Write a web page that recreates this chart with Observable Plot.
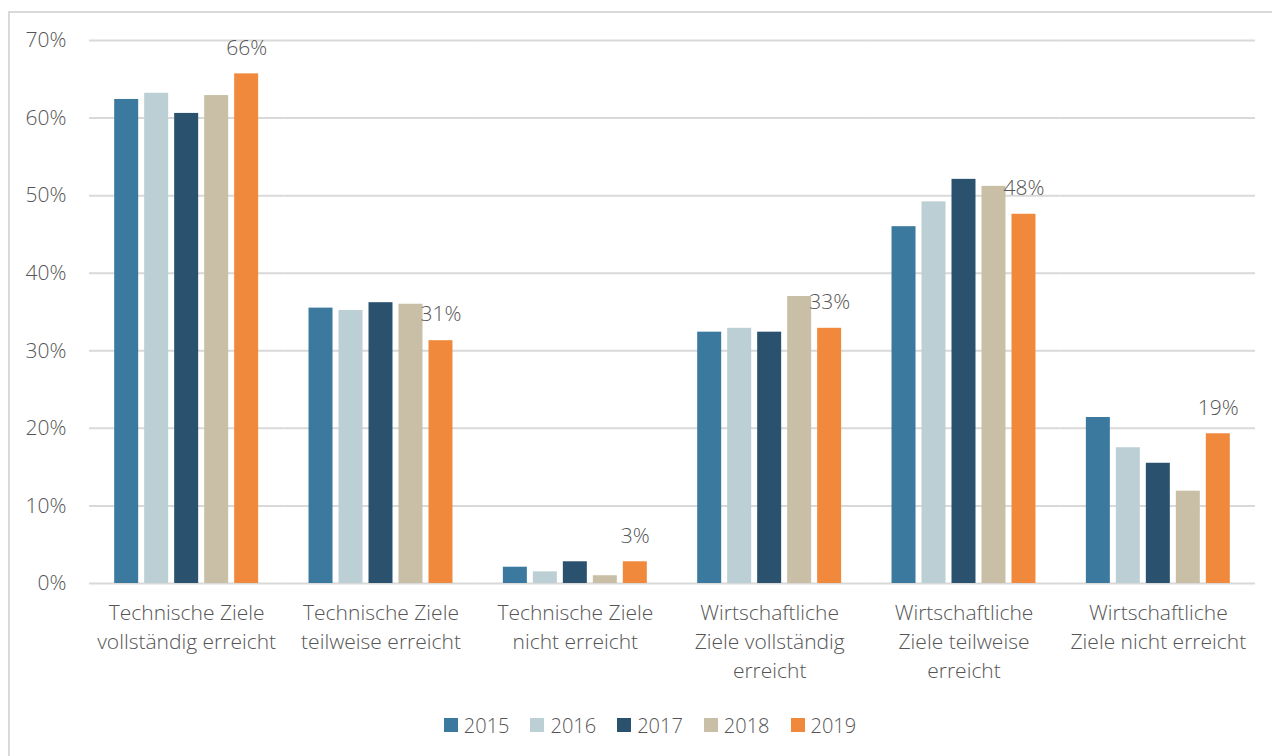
<!DOCTYPE html>
<html>
<head>
<meta charset="utf-8">
<script src="https://cdn.jsdelivr.net/npm/d3@7"></script>
<script src="https://cdn.jsdelivr.net/npm/@observablehq/plot@0.6"></script>
<style>
  html, body { margin: 0; padding: 0; background: #fff; }
  body { width: 1272px; height: 756px; overflow: hidden; position: relative;
         font-family: "Open Sans", Lato, sans-serif; font-weight: 300; color: #555; }
  #frame { position: absolute; left: 8px; top: 11px; width: 1300px; height: 800px;
           border-left: 2px solid #d9d9d9; border-top: 2px solid #d9d9d9; pointer-events: none; }
  #chart { position: absolute; left: 0; top: 0; }
  #legend { position: absolute; left: 14px; top: 705px; width: 1272px; height: 40px;
            display: flex; justify-content: center; align-items: center; gap: 21px; font-size: 20px; }
  #legend .item { display: flex; align-items: center; gap: 6px; }
  #legend .sw { width: 14px; height: 14px; display: inline-block; }
</style>
</head>
<body>
<div id="frame"></div>
<div id="chart"></div>
<div id="legend"></div>
<script>
const categories = [
  "Technische Ziele\nvollständig erreicht",
  "Technische Ziele\nteilweise erreicht",
  "Technische Ziele\nnicht erreicht",
  "Wirtschaftliche\nZiele vollständig\nerreicht",
  "Wirtschaftliche\nZiele teilweise\nerreicht",
  "Wirtschaftliche\nZiele nicht erreicht"
];
const years = ["2015", "2016", "2017", "2018", "2019"];
const colors = ["#3b7a9e", "#bccfd4", "#2a526e", "#c9bfa6", "#f1893d"];
const v2015 = [62.4, 35.5, 2.1, 32.4, 46.0, 21.4];
const v2016 = [63.2, 35.2, 1.5, 32.9, 49.2, 17.5];
const v2017 = [60.6, 36.2, 2.8, 32.4, 52.1, 15.5];
const v2018 = [62.9, 36.0, 1.0, 37.0, 51.2, 11.9];
const v2019 = [65.7, 31.3, 2.8, 32.9, 47.6, 19.3];
const yTicks = [0, 10, 20, 30, 40, 50, 60, 70];

const series = [v2015, v2016, v2017, v2018, v2019];
const rows = [];
years.forEach((yr, i) => categories.forEach((c, j) => rows.push({category: c, year: yr, value: series[i][j]})));
const last = rows.filter(d => d.year === "2019");

const textColor = "#555555";
const chart = Plot.plot({
  width: 1272,
  height: 700,
  marginLeft: 89,
  marginRight: 17,
  marginTop: 40,
  marginBottom: 117,
  style: {fontFamily: '"Open Sans", Lato, sans-serif', fontWeight: 300, color: textColor, background: "transparent"},
  fx: {domain: categories, padding: 0, axis: null, round: false},
  x: {domain: years, paddingInner: 0.2, paddingOuter: 0.84, axis: null, round: false},
  y: {domain: [0, 70], axis: null},
  color: {domain: years, range: colors},
  marks: [
    Plot.ruleY(yTicks, {stroke: "#d9d9d9", strokeWidth: 2}),
    Plot.barY(rows, {fx: "category", x: "year", y: "value", fill: "year"}),
    Plot.text(last, {fx: "category", x: "year", y: "value", text: d => Math.round(d.value) + "%",
      dy: -26, fontSize: 21, fill: textColor}),
    Plot.text(categories, {fx: d => d, y: 0, text: d => d, lineAnchor: "top", dy: 16,
      lineHeight: 1.38, fontSize: 21, fill: textColor}),
    Plot.axisY(yTicks, {tickSize: 0, tickPadding: 23, tickFormat: d => d + "%", fontSize: 21, fill: textColor,
      facetAnchor: "left", label: null})
  ]
});
document.getElementById("chart").appendChild(chart);

const legend = document.getElementById("legend");
years.forEach((yr, i) => {
  const item = document.createElement("div");
  item.className = "item";
  const sw = document.createElement("span");
  sw.className = "sw";
  sw.style.background = colors[i];
  const t = document.createElement("span");
  t.textContent = yr;
  item.appendChild(sw);
  item.appendChild(t);
  legend.appendChild(item);
});
</script>
</body>
</html>
